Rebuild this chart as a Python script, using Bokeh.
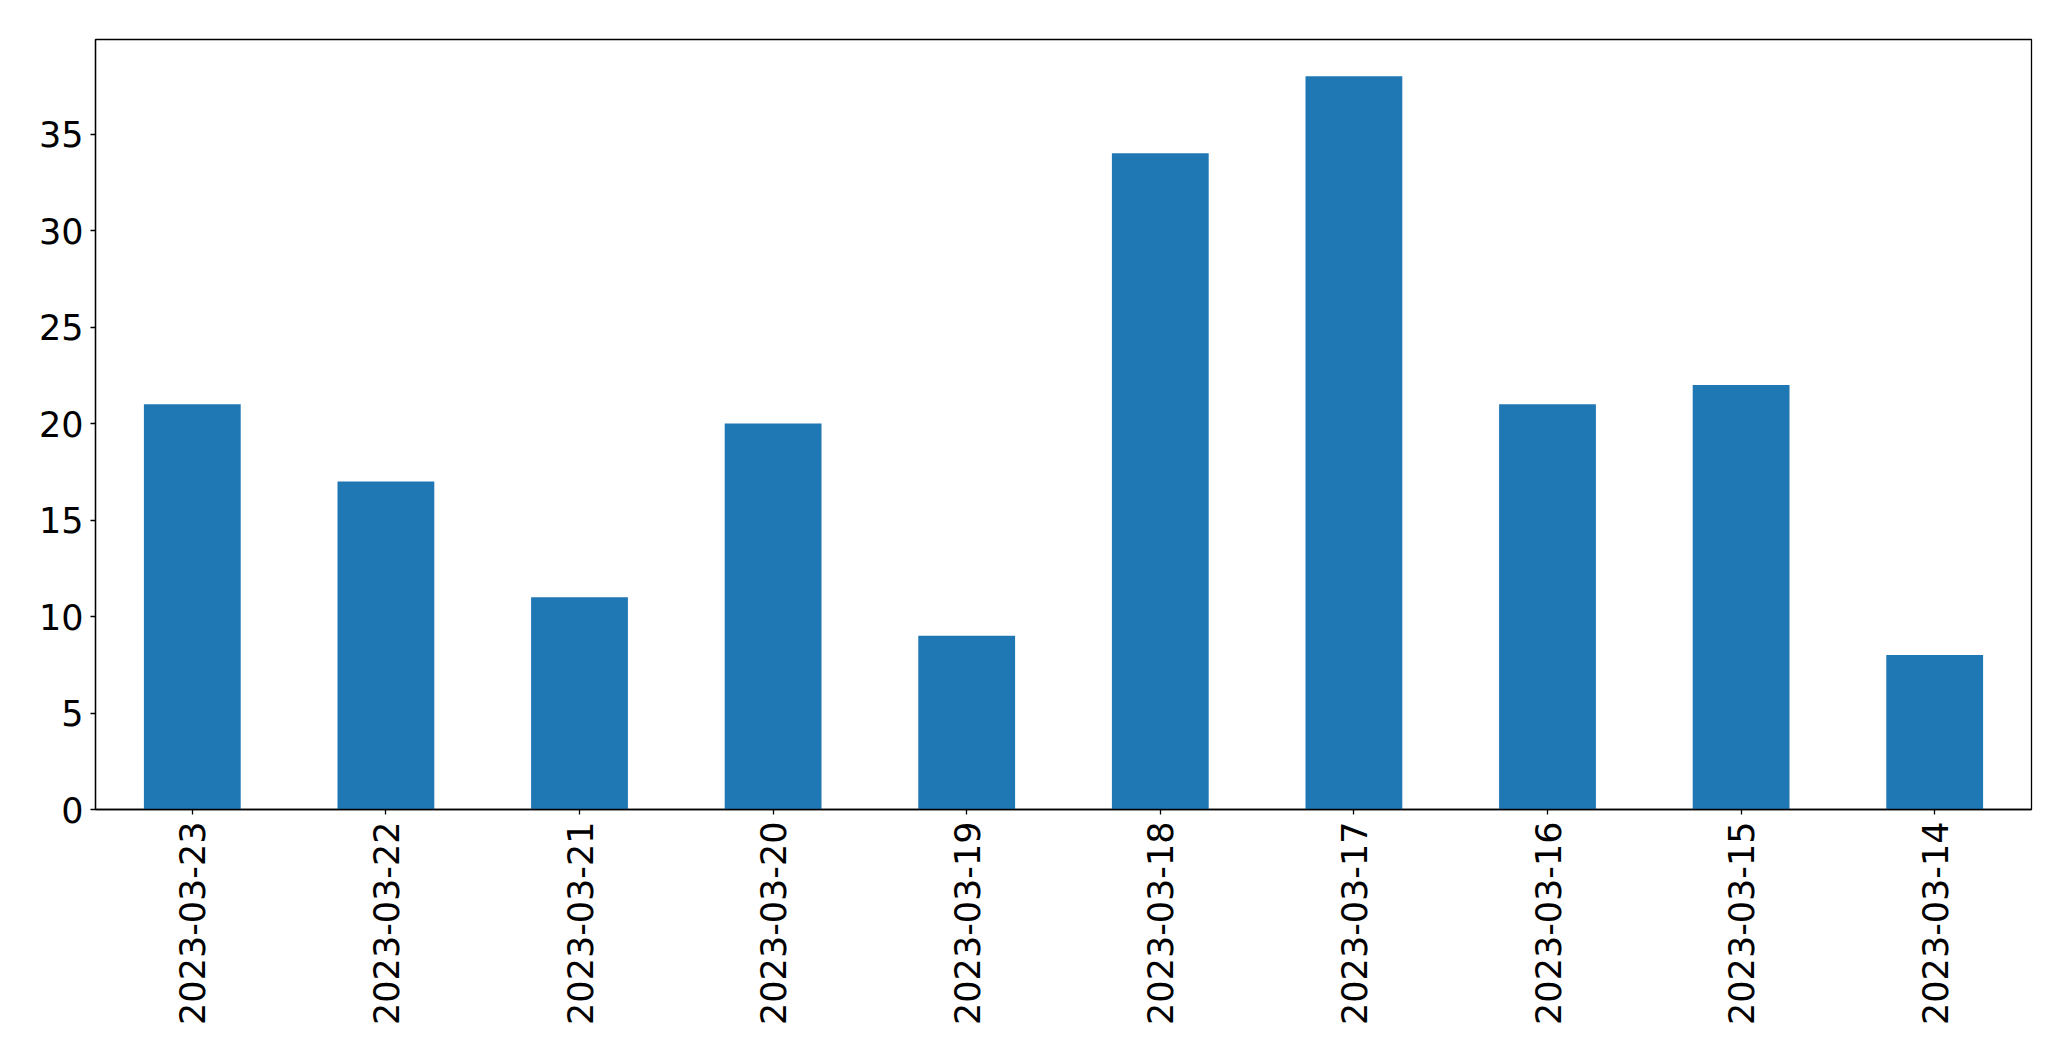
import math
from bokeh.plotting import figure
from bokeh.models import FactorRange, Range1d, FixedTicker
from bokeh.embed import file_html
from bokeh.resources import INLINE

dates = ["2023-03-23", "2023-03-22", "2023-03-21", "2023-03-20", "2023-03-19",
         "2023-03-18", "2023-03-17", "2023-03-16", "2023-03-15", "2023-03-14"]
counts = [21, 17, 11, 20, 9, 34, 38, 21, 22, 8]
y_ticks = [0, 5, 10, 15, 20, 25, 30, 35]

p = figure(width=2062, height=1053, output_backend="svg", toolbar_location=None,
           x_range=FactorRange(factors=dates), y_range=Range1d(0, 39.9))
p.min_border_left = 95
p.min_border_top = 39
p.min_border_right = 31
p.min_border_bottom = 244

p.vbar(x=dates, top=counts, width=0.5, color="#1f77b4", line_color=None)

p.xgrid.visible = False
p.ygrid.visible = False
p.outline_line_color = "black"
p.outline_line_alpha = 1
p.outline_line_width = 1.3
p.background_fill_color = "white"
p.border_fill_color = "white"

for ax in (p.xaxis[0], p.yaxis[0]):
    ax.axis_line_color = "black"
    ax.axis_line_width = 1.3
    ax.major_tick_line_color = "black"
    ax.major_tick_line_width = 1.3
    ax.major_tick_out = 5
    ax.major_tick_in = 0
    ax.minor_tick_line_color = None
    ax.major_label_text_color = "black"
    ax.major_label_text_font = "DejaVu Sans"
    ax.major_label_text_font_size = "35px"

p.yaxis.ticker = FixedTicker(ticks=y_ticks)
p.yaxis.major_label_standoff = 7
p.xaxis.major_label_orientation = math.pi / 2
p.xaxis.major_label_standoff = 7

open("out.html", "w").write(file_html(p, INLINE))
